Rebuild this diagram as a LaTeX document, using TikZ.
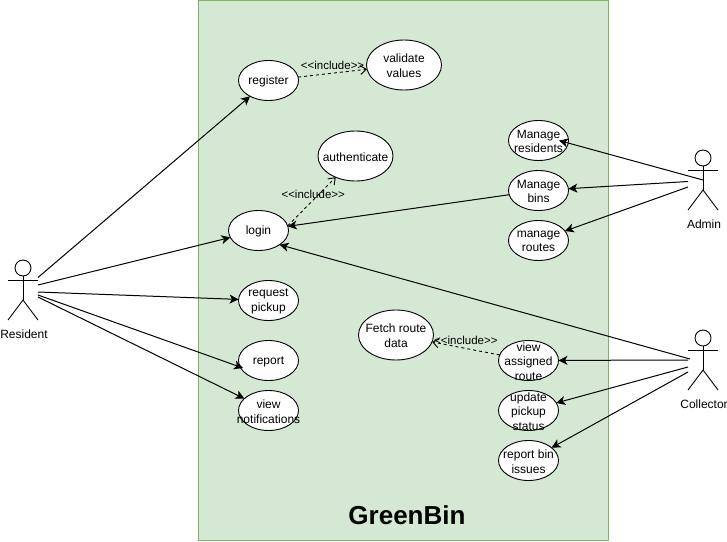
\documentclass[tikz,border=0pt]{standalone}
\usepackage{fontspec}
\setmainfont{Liberation Sans}
\usetikzlibrary{arrows.meta,shapes.geometric}
\definecolor{boxfill}{HTML}{D5E8D4}
\definecolor{boxline}{HTML}{82B366}
\tikzset{
  system/.style={draw=boxline,fill=boxfill,line width=0.9pt},
  uctext/.style={align=center,inner sep=0pt,yshift=-1pt,font=\fontsize{12}{14.6}\selectfont},
  usecase/.style={ellipse,draw=black,fill=white,line width=0.9pt,inner sep=0pt,outer sep=0pt,minimum width=60pt,minimum height=40pt},
  bigcase/.style={usecase,minimum width=75pt,minimum height=50pt},
  actorbox/.style={inner sep=0pt,outer sep=0pt,minimum width=30pt,minimum height=60pt},
  actorline/.style={draw=black,line width=0.9pt},
  actorlabel/.style={inner sep=0pt,font=\fontsize{12}{14}\selectfont},
  assoc/.style={draw=black,line width=1pt,-{Stealth[length=9pt,width=9pt,inset=2.5pt]},shorten <=0pt},
  incl/.style={draw=black,line width=0.9pt,dash pattern=on 3pt off 3pt,-{Straight Barb[length=6pt,width=9pt]}},
  incllabel/.style={inner sep=0pt,font=\fontsize{11.5}{12}\selectfont},
  title/.style={inner sep=0pt,font=\bfseries\fontsize{26}{30}\selectfont}
}
\newcommand{\stick}[1]{%
  \draw[actorline] ([yshift=-8pt]#1.north) circle[radius=8pt];
  \draw[actorline] ([yshift=-16pt]#1.north) -- ([yshift=-40pt]#1.north);
  \draw[actorline] ([yshift=-20pt]#1.north west) -- ([yshift=-20pt]#1.north east);
  \draw[actorline] (#1.south west) -- ([yshift=-40pt]#1.north) -- (#1.south east);
}
\newcommand{\incltext}{<{}<include>{}>}
\begin{document}
\begin{tikzpicture}[x=1pt,y=-1pt]
\useasboundingbox (0,0) rectangle (727,541);
\draw[system] (198.5,0.5) rectangle (608.5,540.5);
\node[title] (ttl) at (407,515.5) {GreenBin};

% use cases
\node[usecase,label={[uctext]center:register}] (register) at (268.5,80.5) {};
\node[bigcase,label={[uctext]center:validate\\values}] (validate) at (404,65) {};
\node[bigcase,label={[uctext]center:authenticate}] (auth) at (355.5,156) {};
\node[usecase,label={[uctext]center:login}] (login) at (258.5,230.5) {};
\node[usecase,label={[uctext]center:request\\pickup}] (pickup) at (268.5,300.5) {};
\node[usecase,label={[uctext]center:report}] (report) at (268.5,360.5) {};
\node[usecase,label={[uctext]center:view\\notifications}] (notif) at (268.5,410.5) {};
\node[usecase,label={[uctext]center:Manage\\residents}] (mres) at (538.5,140.5) {};
\node[usecase,label={[uctext]center:Manage\\bins}] (mbins) at (538.5,190.5) {};
\node[usecase,label={[uctext]center:manage\\routes}] (mroutes) at (538.5,240.5) {};
\node[bigcase,label={[uctext]center:Fetch route\\data}] (fetch) at (396,335) {};
\node[usecase,label={[uctext]center:view\\assigned\\route}] (viewr) at (528.5,360.5) {};
\node[usecase,label={[uctext]center:update\\pickup\\status}] (update) at (528.5,410.5) {};
\node[usecase,label={[uctext]center:report bin\\issues}] (binissue) at (528.5,460.5) {};

% actors
\node[actorbox] (resident) at (23,290) {};
\stick{resident}
\node[actorlabel] (residentl) at (24,334.5) {Resident};
\node[actorbox] (admin) at (703,180) {};
\stick{admin}
\node[actorlabel] (adminl) at (704,224.5) {Admin};
\node[actorbox] (collector) at (703,360) {};
\stick{collector}
\node[actorlabel] (collectorl) at (704,404.5) {Collector};

% free ends at the actors
\coordinate (r1) at (38,277.5);
\coordinate (r2) at (38,285);
\coordinate (r3) at (38,292);
\coordinate (r4) at (38,295);
\coordinate (r5) at (38,297);
\coordinate (a1) at (703,180);
\coordinate (a2) at (688,181.5);
\coordinate (a3) at (688,187);
\coordinate (c1) at (690,359);
\coordinate (c2) at (688,360);
\coordinate (c3) at (688,367);
\coordinate (c4) at (688,372);

% associations
\draw[assoc] (r1) -- (register);
\draw[assoc] (r2) -- (login);
\draw[assoc] (r3) -- (pickup);
\draw[assoc] (r4) -- ([xshift=-25.5pt,yshift=-7.5pt]report.center);
\draw[assoc] (r5) -- (notif);
\draw[assoc] (a1) -- ([xshift=20.5pt]mres.center);
\draw[assoc] (a2) -- (mbins);
\draw[assoc] (a3) -- (mroutes);
\draw[assoc] (mbins) -- (login);
\draw[assoc] (c1) -- (login.-34);
\draw[assoc] (c2) -- (viewr);
\draw[assoc] (c3) -- (update);
\draw[assoc] (c4) -- (binissue);

% includes
\draw[incl] (register) -- (validate) node[incllabel,pos=0.5,yshift=8pt] (il1) {\incltext};
\draw[incl] (login.9) -- (auth.227) node[incllabel,pos=0.5,yshift=7pt,xshift=1.5pt] (il2) {\incltext};
\draw[incl] (viewr) -- (fetch) node[incllabel,pos=0.5,yshift=8.5pt] (il3) {\incltext};
\end{tikzpicture}
\end{document}
